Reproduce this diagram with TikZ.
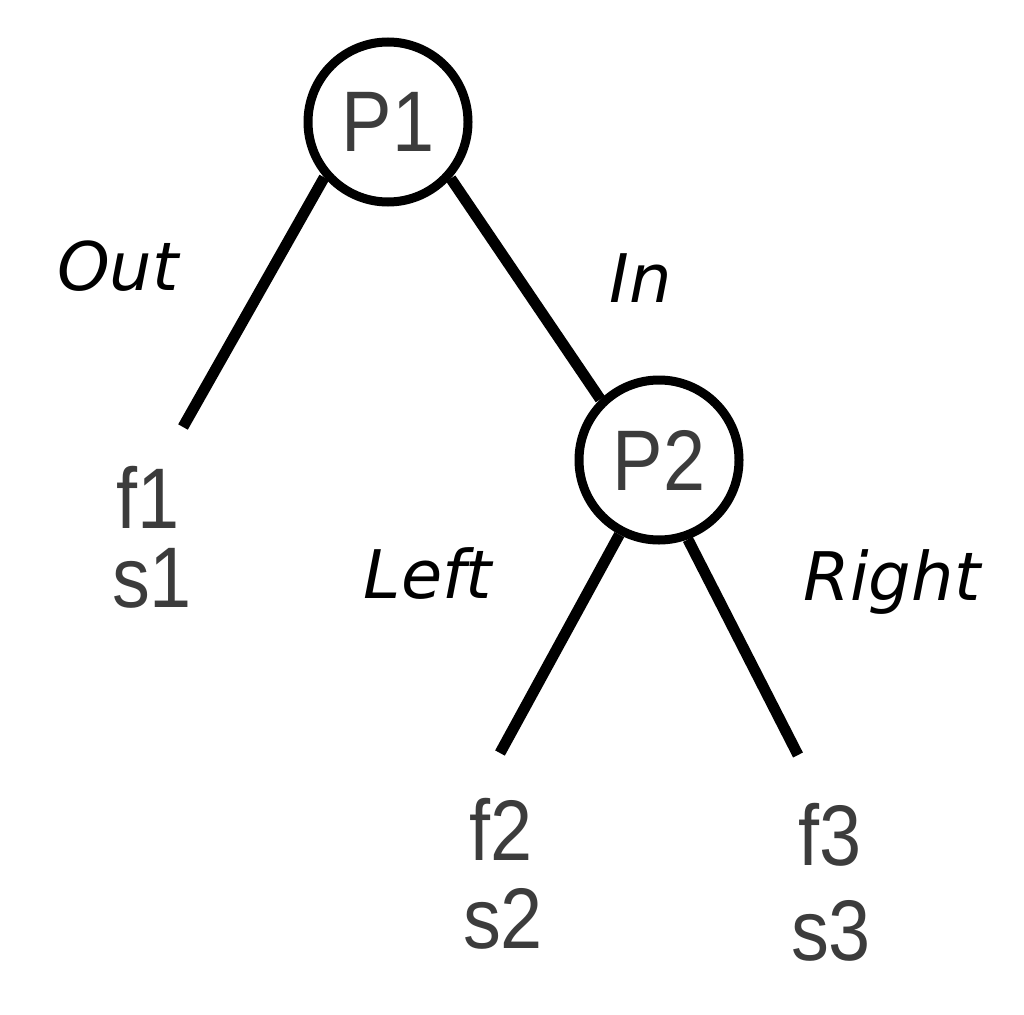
\documentclass[tikz,border=0pt]{standalone}
\usepackage{fontspec}
\newfontfamily\leaffont[FakeStretch=0.88]{Liberation Sans}
\newfontfamily\edgefont{DejaVu Sans}
\definecolor{textgray}{RGB}{60,60,60}
\begin{document}
\begin{tikzpicture}[x=1pt,y=-1pt,
  pnode/.style={circle,draw=black,line width=9pt,minimum size=160pt,inner sep=0pt,
    text=textgray,font=\leaffont\fontsize{86}{90}\selectfont},
  leaf/.style={anchor=base,inner sep=0pt,text=textgray,font=\leaffont\fontsize{86}{90}\selectfont},
  edgelabel/.style={anchor=base,inner sep=0pt,text=black,font=\edgefont\itshape\fontsize{67}{70}\selectfont},
  branch/.style={line width=11pt,draw=black}]
\useasboundingbox (0,0) rectangle (1024,1014);
\fill[white] (0,0) rectangle (1024,1014);
% tree nodes
\node[pnode] (P1) at (388,122) {P1};
\node[pnode] (P2) at (659,460) {P2};
% leaf ends
\coordinate (e1) at (183,427);
\coordinate (e2) at (500,753);
\coordinate (e3) at (798,755);
% branches
\draw[branch] (P1.221.7) -- (e1);
\draw[branch] (P1.318.3) -- (P2.134);
\draw[branch] (P2.242.9) -- (e2);
\draw[branch] (P2.290.5) -- (e3);
% edge labels
\node[edgelabel] (lout) at (118,290) {Out};
\node[edgelabel] (lin) at (641,302) {In};
\node[edgelabel] (lleft) at (428,598) {Left};
\node[edgelabel] (lright) at (892,600) {Right};
% leaf labels
\node[leaf] (f1) at (148,528) {f1};
\node[leaf] (s1) at (152,607) {s1};
\node[leaf] (f2) at (501,860) {f2};
\node[leaf] (s2) at (503,948) {s2};
\node[leaf] (f3) at (830,865) {f3};
\node[leaf] (s3) at (831,960) {s3};
\end{tikzpicture}
\end{document}
